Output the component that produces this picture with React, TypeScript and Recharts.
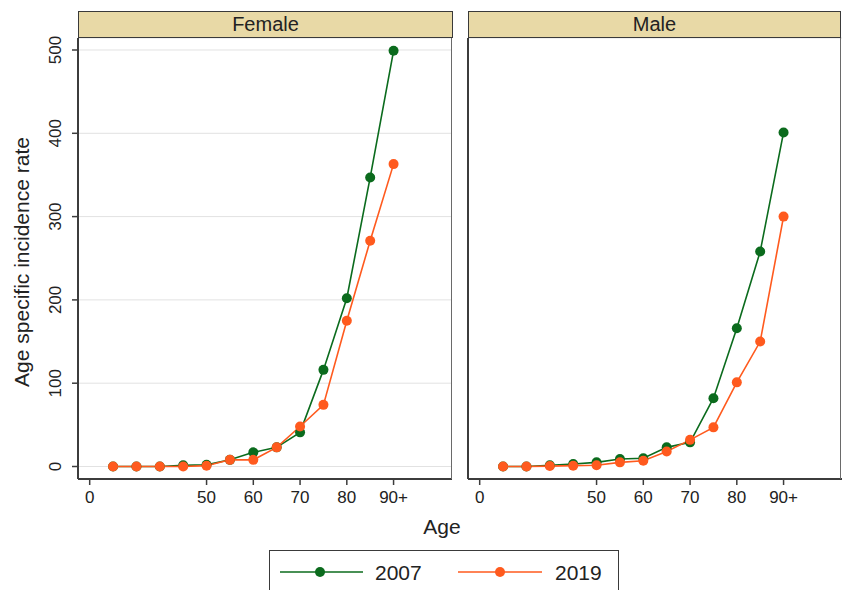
import { LineChart, Line, XAxis, YAxis, CartesianGrid } from 'recharts';

// age groups are placed by slot index (Stata-style), 13 = 90+
const ageSlots = [1, 2, 3, 4, 5, 6, 7, 8, 9, 10, 11, 12, 13];
const xTickSlots = [0, 5, 7, 9, 11, 13];
const xTickLabels = ['0', '50', '60', '70', '80', '90+'];
const yTicks = [0, 100, 200, 300, 400, 500];

const female2007 = [0, 0, 0, 1.5, 2, 8, 17, 23, 41, 116, 202, 347, 499];
const female2019 = [0, 0, 0, 0, 1, 8, 8, 23, 48, 74, 175, 271, 363];
const male2007 = [0, 0, 1.5, 3, 5, 9, 10, 23, 29, 82, 166, 258, 401];
const male2019 = [0, 0, 0.5, 1, 1.5, 5, 7, 18, 32, 47, 101, 150, 300];

const GREEN = '#0b6b1d';
const ORANGE = '#ff5a1e';
const AXIS = '#3c3c3c';
const STRIP = '#e8d9a6';
const FONT = '"Liberation Sans", Arial, sans-serif';

const buildRows = (a: number[], b: number[]) =>
  ageSlots.map((slot, i) => ({ slot, y2007: a[i], y2019: b[i] }));

const XTick = ({ x, y, payload }: any) => {
  const idx = xTickSlots.indexOf(payload.value);
  return (
    <text x={x} y={y} dy="0.71em" textAnchor="middle" fontSize={17} fill="#222" fontFamily={FONT}>
      {xTickLabels[idx]}
    </text>
  );
};

const YTick = ({ x, y, payload }: any) => {
  const cx = x - 15;
  return (
    <text
      x={cx}
      y={y}
      dy="0.35em"
      textAnchor="middle"
      fontSize={17}
      fill="#222"
      fontFamily={FONT}
      transform={`rotate(-90 ${cx} ${y})`}
    >
      {payload.value}
    </text>
  );
};

function Panel({ rows, showY }: { rows: any[]; showY: boolean }) {
  return (
    <LineChart width={452} height={491} data={rows} margin={{ top: 20, right: 0, bottom: 0, left: 0 }}>
      <CartesianGrid horizontal vertical={false} stroke="#e2e2e2" strokeWidth={1} />
      <XAxis
        dataKey="slot"
        type="number"
        domain={[-0.5, 15.5]}
        ticks={xTickSlots}
        interval={0}
        height={30}
        tickSize={6}
        tickMargin={6}
        tick={<XTick />}
        axisLine={{ stroke: AXIS, strokeWidth: 2 }}
        tickLine={{ stroke: AXIS, strokeWidth: 1.5 }}
        allowDataOverflow
      />
      <YAxis
        type="number"
        domain={[-15, 514.4]}
        ticks={yTicks}
        interval={0}
        width={78}
        tickSize={showY ? 6 : 0}
        tickMargin={2}
        tick={showY ? <YTick /> : false}
        axisLine={{ stroke: AXIS, strokeWidth: 2 }}
        tickLine={showY ? { stroke: AXIS, strokeWidth: 1.5 } : false}
        allowDataOverflow
      />
      <Line
        dataKey="y2007"
        stroke={GREEN}
        strokeWidth={1.6}
        dot={{ r: 5, fill: GREEN, stroke: GREEN, strokeWidth: 0 }}
        isAnimationActive={false}
      />
      <Line
        dataKey="y2019"
        stroke={ORANGE}
        strokeWidth={1.6}
        dot={{ r: 5, fill: ORANGE, stroke: ORANGE, strokeWidth: 0 }}
        isAnimationActive={false}
      />
    </LineChart>
  );
}

const stripStyle = (left: number, width: number): React.CSSProperties => ({
  position: 'absolute',
  left,
  top: 11,
  width,
  height: 27,
  boxSizing: 'border-box',
  background: STRIP,
  border: '1.5px solid #3a3a3a',
  fontFamily: FONT,
  fontSize: 20,
  color: '#222',
  textAlign: 'center',
  lineHeight: '24px',
});

const borderStyle = (left: number): React.CSSProperties => ({
  position: 'absolute',
  left,
  top: 38,
  width: 0,
  height: 441,
  borderLeft: '1.5px solid #6a6a6a',
});

export default function App() {
  return (
    <div style={{ position: 'absolute', left: 0, top: 0, width: 842, height: 590, background: '#fff', overflow: 'hidden' }}>
      <div style={{ position: 'absolute', left: 0, top: 18 }}>
        <Panel rows={buildRows(female2007, female2019)} showY />
      </div>
      <div style={{ position: 'absolute', left: 390, top: 18 }}>
        <Panel rows={buildRows(male2007, male2019)} showY={false} />
      </div>
      <div style={stripStyle(78, 375)}>Female</div>
      <div style={stripStyle(468, 373)}>Male</div>
      <div style={borderStyle(451)} />
      <div style={borderStyle(840)} />
      <div
        style={{
          position: 'absolute',
          left: 22,
          top: 262,
          transform: 'translate(-50%, -50%) rotate(-90deg)',
          whiteSpace: 'nowrap',
          fontFamily: FONT,
          fontSize: 21,
          color: '#222',
        }}
      >
        Age specific incidence rate
      </div>
      <div
        style={{
          position: 'absolute',
          left: 442,
          top: 527,
          transform: 'translate(-50%, -50%)',
          fontFamily: FONT,
          fontSize: 21,
          color: '#222',
        }}
      >
        Age
      </div>
      <svg style={{ position: 'absolute', left: 0, top: 0 }} width={842} height={590}>
        <rect x={269.5} y={550.5} width={349} height={60} fill="#fff" stroke="#3a3a3a" strokeWidth={1} />
        <line x1={280} x2={363} y1={572} y2={572} stroke={GREEN} strokeWidth={1.6} />
        <circle cx={320} cy={572} r={5} fill={GREEN} />
        <text x={375} y={572} dy="0.36em" fontSize={21} fontFamily={FONT} fill="#222">2007</text>
        <line x1={458} x2={542} y1={572} y2={572} stroke={ORANGE} strokeWidth={1.6} />
        <circle cx={500} cy={572} r={5} fill={ORANGE} />
        <text x={555} y={572} dy="0.36em" fontSize={21} fontFamily={FONT} fill="#222">2019</text>
      </svg>
    </div>
  );
}
